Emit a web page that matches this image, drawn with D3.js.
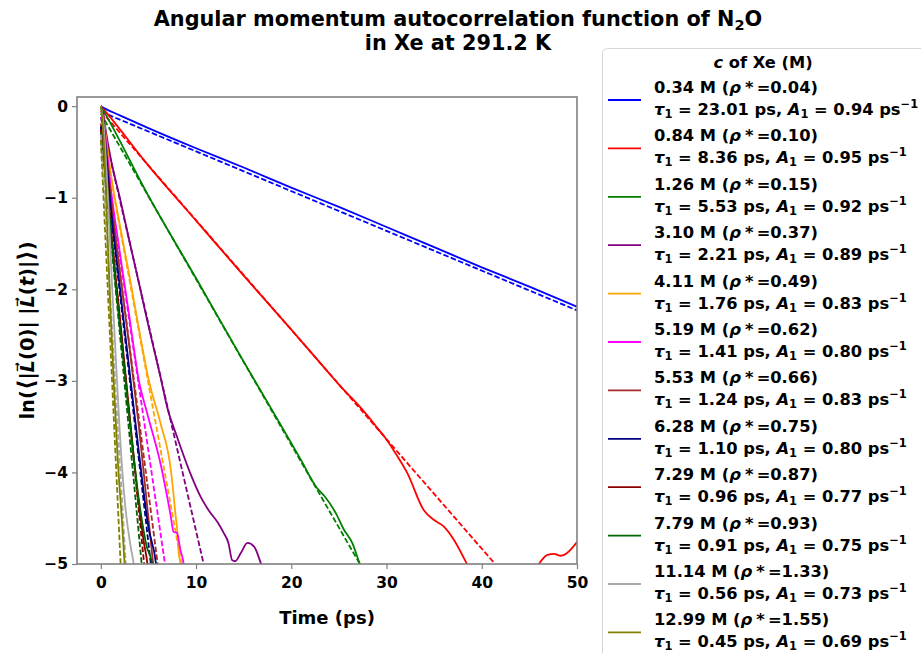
<!DOCTYPE html>
<html>
<head>
<meta charset="utf-8">
<script src="https://cdn.jsdelivr.net/npm/d3@7.9.0/dist/d3.min.js"></script>
<style>
  body { margin: 0; background: #fff; }
  svg text { font-family: "DejaVu Sans", sans-serif; font-weight: bold; fill: #000; }
</style>
</head>
<body>
<svg id="chart" width="921" height="653"></svg>
<script>
// concentrations of Xe and fit results shown in the legend
const concentrations = ['0.34', '0.84', '1.26', '3.10', '4.11', '5.19', '5.53', '6.28', '7.29', '7.79', '11.14', '12.99'];
const rhoStar = ['0.04', '0.10', '0.15', '0.37', '0.49', '0.62', '0.66', '0.75', '0.87', '0.93', '1.33', '1.55'];
const tau1 = ['23.01', '8.36', '5.53', '2.21', '1.76', '1.41', '1.24', '1.10', '0.96', '0.91', '0.56', '0.45'];
const amp1 = ['0.94', '0.95', '0.92', '0.89', '0.83', '0.80', '0.83', '0.80', '0.77', '0.75', '0.73', '0.69'];
const colors = ['blue', 'red', 'green', 'purple', 'orange', 'magenta', 'brown', 'navy', 'darkred', 'darkgreen', 'darkgray', 'olive'];

// simulated ln C(t) [time (ps), value]
const simulated = [
  [[0, 0], [0.5, -0.03], [2, -0.1], [5, -0.24], [10, -0.46], [15, -0.67], [20, -0.89], [25, -1.1], [30, -1.32], [35, -1.54], [40, -1.76], [45, -1.97], [50, -2.19]],
  [[0, 0], [0.5, -0.06], [5, -0.65], [10, -1.25], [15, -1.85], [20, -2.44], [24, -2.92], [25, -3.04], [26, -3.15], [27, -3.26], [28, -3.38], [29, -3.51], [30, -3.64], [31, -3.8], [32.2, -4.01], [33.9, -4.41], [35, -4.52], [36, -4.59], [37.1, -4.74], [38.4, -4.99], [40, -5.3], [43, -5.5], [45, -5.2], [46, -5.0], [46.9, -4.9], [47.6, -4.89], [48.3, -4.91], [50, -4.76]],
  [[0, 0], [0.5, -0.09], [5, -0.98], [10, -1.88], [15, -2.79], [19, -3.5], [21, -3.86], [22.7, -4.17], [23.5, -4.26], [24.7, -4.45], [25.5, -4.62], [26.4, -4.77], [27.2, -5.0], [28, -5.2]],
  [[0, 0], [0.2, -0.04], [0.5, -0.25], [1, -0.55], [2, -1.0], [3, -1.47], [4, -1.93], [5, -2.4], [6.25, -2.95], [7, -3.3], [8, -3.61], [9.4, -4.01], [10.5, -4.27], [11.3, -4.41], [12.3, -4.55], [12.9, -4.66], [13.4, -4.77], [13.8, -4.96], [14.1, -4.97], [14.7, -4.88], [15.4, -4.77], [16.1, -4.81], [16.8, -4.99], [17.2, -5.1]],
  [[0, 0], [0.2, -0.05], [0.5, -0.3], [1, -0.7], [2, -1.3], [3, -1.85], [4, -2.43], [5.03, -2.99], [6.26, -3.46], [7.31, -3.94], [7.6, -4.2], [7.83, -4.45], [8.0, -4.6], [8.18, -4.88], [8.36, -5.0], [8.5, -5.2]],
  [[0, 0], [0.2, -0.05], [0.5, -0.35], [1, -0.85], [2, -1.6], [3, -2.3], [4, -3.0], [4.86, -3.35], [6.26, -3.9], [7.3, -4.45], [7.65, -4.65], [8.0, -4.66], [8.36, -4.85], [8.7, -5.0], [8.9, -5.2]],
  [[0, 0], [0.2, -0.06], [0.5, -0.4], [1, -0.95], [2, -1.8], [3, -2.62], [4, -3.5], [5, -4.5], [5.5, -5.0], [5.7, -5.2]],
  [[0, 0], [0.2, -0.07], [0.5, -0.45], [1, -1.05], [2, -1.98], [3, -2.88], [4, -3.78], [5, -4.6], [5.8, -5.0], [6, -5.2]],
  [[0, 0], [0.2, -0.08], [0.5, -0.55], [1, -1.25], [2, -2.3], [3, -3.35], [4, -4.35], [4.5, -4.75], [4.9, -5.0], [5.1, -5.2]],
  [[0, 0], [0.2, -0.09], [0.5, -0.6], [1, -1.3], [2, -2.4], [3, -3.4], [4, -4.3], [4.8, -4.8], [5.4, -5.0], [5.6, -5.2]],
  [[0, 0], [0.3, -0.2], [0.7, -0.9], [1.2, -2.0], [1.7, -3.0], [2.2, -3.9], [2.6, -4.4], [2.9, -4.65], [3.2, -4.85], [3.45, -5.0], [3.6, -5.2]],
  [[0, 0], [0.2, -0.2], [0.5, -0.85], [1.0, -2.2], [1.35, -3.0], [1.8, -3.9], [2.2, -4.5], [2.5, -5.0], [2.7, -5.3]]
];

// single-exponential fits, drawn as straight dashed lines (end points)
const fitted = [
  [[0, -0.06], [50, -2.23]],
  [[0, -0.05], [41.4, -5]],
  [[0, -0.08], [27.2, -5]],
  [[0, -0.12], [10.8, -5]],
  [[0, -0.19], [8.47, -5]],
  [[0, -0.22], [6.74, -5]],
  [[0, -0.19], [5.97, -5]],
  [[0, -0.22], [5.25, -5]],
  [[0, -0.26], [4.55, -5]],
  [[0, -0.29], [4.29, -5]],
  [[0, -0.31], [2.62, -5]],
  [[0, -0.37], [2.08, -5]]
];

const xTicks = [0, 10, 20, 30, 40, 50];
const yTicks = [0, -1, -2, -3, -4, -5];

const svg = d3.select('#chart');
const plot = { left: 77, right: 577, top: 97, bottom: 564 };

const xScale = d3.scaleLinear().domain([-2.5, 50]).range([plot.left, plot.right]);
const yScale = d3.scaleLinear().domain([-5, 0.1]).range([plot.bottom, plot.top]);

svg.append('defs').append('clipPath').attr('id', 'clip')
  .append('rect')
  .attr('x', plot.left).attr('y', plot.top)
  .attr('width', plot.right - plot.left).attr('height', plot.bottom - plot.top);

const line = d3.line()
  .x(d => xScale(d[0]))
  .y(d => yScale(d[1]))
  .curve(d3.curveMonotoneX);

const lines = svg.append('g').attr('clip-path', 'url(#clip)');
colors.forEach((c, i) => {
  lines.append('path')
    .attr('d', line(simulated[i]))
    .attr('fill', 'none')
    .attr('stroke', c)
    .attr('stroke-width', 1.8);
  lines.append('path')
    .attr('d', d3.line().x(d => xScale(d[0])).y(d => yScale(d[1]))(fitted[i]))
    .attr('fill', 'none')
    .attr('stroke', c)
    .attr('stroke-width', 1.8)
    .attr('stroke-dasharray', '5.5,2.4');
});

// axes
const xAxis = svg.append('g')
  .attr('transform', `translate(0, ${plot.bottom})`)
  .call(d3.axisBottom(xScale).tickValues(xTicks).tickSize(5).tickPadding(4).tickSizeOuter(0));
const yAxis = svg.append('g')
  .attr('transform', `translate(${plot.left}, 0)`)
  .call(d3.axisLeft(yScale).tickValues(yTicks).tickSize(5).tickPadding(4).tickSizeOuter(0)
    .tickFormat(d => d < 0 ? '\u2212' + Math.abs(d) : d));

[xAxis, yAxis].forEach(ax => {
  ax.select('.domain').remove();
  ax.selectAll('.tick line').attr('stroke', '#808080').attr('stroke-width', 1.2);
  ax.selectAll('.tick text').style('font-size', '15.5px').attr('fill', '#000');
});
xAxis.selectAll('.tick text').attr('dy', '0.95em');

svg.append('rect')
  .attr('x', plot.left).attr('y', plot.top)
  .attr('width', plot.right - plot.left).attr('height', plot.bottom - plot.top)
  .attr('fill', 'none').attr('stroke', '#808080').attr('stroke-width', 1.6);

// axis labels
svg.append('text')
  .attr('x', (plot.left + plot.right) / 2).attr('y', 624)
  .attr('text-anchor', 'middle')
  .style('font-size', '18px')
  .text('Time (ps)');

const ylab = svg.append('text')
  .attr('transform', `translate(34, ${(plot.top + plot.bottom) / 2}) rotate(-90)`)
  .attr('text-anchor', 'middle')
  .style('font-size', '19.5px');
ylab.append('tspan').text('ln(');
ylab.append('tspan').style('font-size', '23px').text('\u27E8');
ylab.append('tspan').text('|');
ylab.append('tspan').style('font-style', 'italic').text('L\u20D7');
ylab.append('tspan').text('(0)| |');
ylab.append('tspan').style('font-style', 'italic').text('L\u20D7');
ylab.append('tspan').text('(');
ylab.append('tspan').style('font-style', 'italic').text('t');
ylab.append('tspan').text(')|');
ylab.append('tspan').style('font-size', '23px').text('\u27E9');
ylab.append('tspan').text(')');

// title
const title = svg.append('text')
  .attr('x', 458).attr('y', 26)
  .attr('text-anchor', 'middle')
  .style('font-size', '20.8px');
title.append('tspan').text('Angular momentum autocorrelation function of N');
title.append('tspan').attr('dy', 4).style('font-size', '14.5px').text('2');
title.append('tspan').attr('dy', -4).text('O');
svg.append('text')
  .attr('x', 458).attr('y', 50)
  .attr('text-anchor', 'middle')
  .style('font-size', '20.8px')
  .text('in Xe at 291.2 K');

// legend
const legend = svg.append('g');
legend.append('rect')
  .attr('x', 602.5).attr('y', 48.5)
  .attr('width', 340).attr('height', 640)
  .attr('rx', 5)
  .attr('fill', '#fff').attr('stroke', '#d6d6d6').attr('stroke-width', 1);

const lt = legend.append('text')
  .attr('x', 763).attr('y', 68)
  .attr('text-anchor', 'middle')
  .style('font-size', '16.3px');
lt.append('tspan').style('font-style', 'italic').text('c');
lt.append('tspan').text(' of Xe (M)');

const rowStep = 48.4;
colors.forEach((c, i) => {
  const y0 = 93 + i * rowStep;
  legend.append('line')
    .attr('x1', 608).attr('x2', 641)
    .attr('y1', y0 + 7).attr('y2', y0 + 7)
    .attr('stroke', c).attr('stroke-width', 1.8);

  const t1 = legend.append('text').attr('x', 654).attr('y', y0).style('font-size', '16.3px');
  t1.append('tspan').text(`${concentrations[i]} M (`);
  t1.append('tspan').style('font-style', 'italic').text('\u03C1');
  t1.append('tspan').text(`\u2005*\u2009=${rhoStar[i]})`);

  const t2 = legend.append('text').attr('x', 654).attr('y', y0 + 22).style('font-size', '16.3px');
  t2.append('tspan').style('font-style', 'italic').text('\u03C4');
  t2.append('tspan').attr('dy', 3).style('font-size', '11.5px').text('1');
  t2.append('tspan').attr('dy', -3).text(` = ${tau1[i]} ps, `);
  t2.append('tspan').style('font-style', 'italic').text('A');
  t2.append('tspan').attr('dy', 3).style('font-size', '11.5px').text('1');
  t2.append('tspan').attr('dy', -3).text(` = ${amp1[i]} ps`);
  t2.append('tspan').attr('dy', -7).style('font-size', '11.5px').text('\u22121');
});
</script>
</body>
</html>
